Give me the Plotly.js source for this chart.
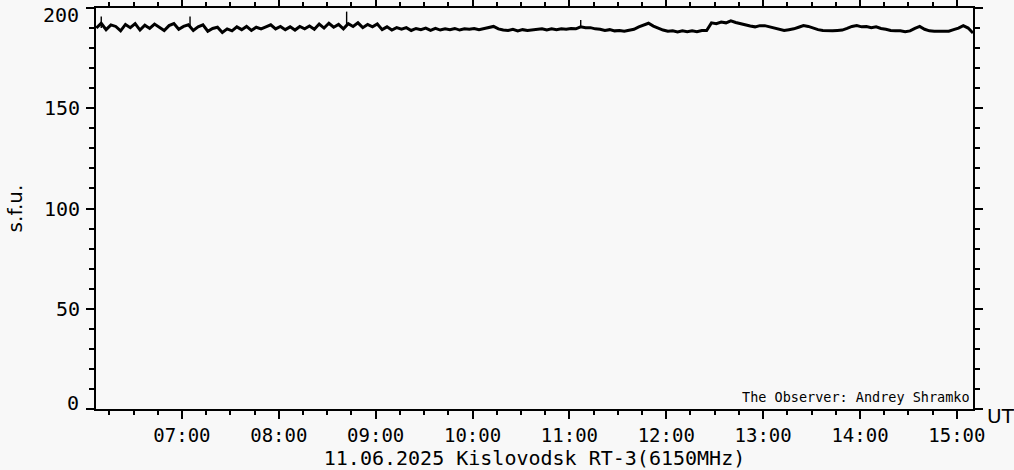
<!DOCTYPE html>
<html>
<head>
<meta charset="utf-8">
<script src="https://cdn.plot.ly/plotly-3.0.1.min.js"></script>
<style>
  html, body { margin: 0; padding: 0; background: #f8f8f8; }
  #chart { width: 1014px; height: 470px; }
</style>
</head>
<body>
<div id="chart"></div>
<script>
// Sampling grid: 3-minute samples from 06:07 UT to 15:10 UT on 11.06.2025
const dateStr = '2025-06-11';
const startMinute = 367;   // 06:07
const stepMinutes = 3;

// Flux values (s.f.u.), one per sample
const fluxValues = [
  190.0, 192.4, 189.2, 191.6, 190.8, 188.6, 191.8, 190.2, 192.2, 189.0,
  191.4, 189.8, 192.0, 190.6, 188.8, 191.2, 192.2, 189.4, 190.8, 191.6,
  188.8, 190.6, 191.6, 188.4, 189.8, 190.4, 187.8, 189.6, 188.6, 190.6,
  189.2, 190.8, 188.8, 190.4, 189.6, 190.6, 191.6, 189.6, 190.8, 189.2,
  190.6, 189.0, 190.8, 189.6, 191.0, 189.4, 192.0, 190.0, 192.4, 190.4,
  191.8, 189.6, 192.2, 190.8, 192.6, 190.2, 191.8, 190.6, 192.0, 189.2,
  190.6, 189.0, 190.2, 189.4, 190.2, 188.8, 189.8, 189.2, 190.0, 188.8,
  189.8, 189.0, 189.6, 189.2, 189.8, 189.0, 189.6, 189.4, 189.8, 189.2,
  189.8, 190.2, 190.8, 189.6, 189.0, 188.8, 189.4, 188.6, 189.2, 188.8,
  189.0, 189.2, 189.6, 189.0, 189.6, 189.2, 189.6, 189.4, 189.8, 189.6,
  190.6, 190.2, 190.2, 189.6, 189.4, 188.8, 189.2, 188.6, 188.8, 188.4,
  189.0, 189.4, 190.6, 191.5, 192.4, 191.0, 189.8, 189.0, 188.4, 188.6,
  188.0, 188.6, 188.2, 188.6, 188.2, 188.8, 188.8, 192.6, 192.2, 193.0,
  192.6, 193.6, 192.8, 192.2, 191.4, 191.0, 190.6, 191.2, 191.2, 190.6,
  189.8, 189.2, 188.8, 189.2, 189.6, 190.4, 191.2, 190.8, 189.8, 189.2,
  188.8, 188.6, 188.6, 188.8, 189.0, 189.8, 190.8, 191.2, 190.6, 190.8,
  190.2, 190.6, 189.8, 189.4, 188.8, 188.6, 188.6, 188.2, 188.6, 189.8,
  190.8, 189.4, 188.6, 188.4, 188.4, 188.2, 188.4, 189.2, 190.0, 191.2,
  190.0, 187.5
];

// Short spikes seen in the record
const spikeTimes  = ['06:10', '07:05', '08:42', '11:07'];
const spikeBase   = [190.0, 190.0, 191.0, 190.0];
const spikePeaks  = [195.7, 195.7, 198.2, 194.0];

// Y tick values and labels (end labels are drawn inside the range, as in the reference)
const yTickVals = [0, 50, 100, 150, 200];
const yTickText = ['', '50', '100', '150', ''];
const yEndLabels = [{ v: 0, text: '0', shift: 6 }, { v: 200, text: '200', shift: -7 }];

// Axis labels / texts
const yTitle = 's.f.u.';
const xTitle = '11.06.2025 Kislovodsk RT-3(6150MHz)';
const unitLabel = 'UT';
const observerText = 'The Observer: Andrey Shramko';

function pad(n) { return (n < 10 ? '0' : '') + n; }
function minuteToStamp(m) {
  return dateStr + ' ' + pad(Math.floor(m / 60)) + ':' + pad(m % 60) + ':00';
}
const times = fluxValues.map((_, i) => minuteToStamp(startMinute + i * stepMinutes));

const sx = [], sy = [];
spikeTimes.forEach((t, i) => {
  const ts = dateStr + ' ' + t + ':00';
  sx.push(ts, ts, null);
  sy.push(spikeBase[i], spikePeaks[i], null);
});

const monoFont = { family: 'DejaVu Sans Mono, monospace', size: 20, color: '#000' };
const tickFontX = { family: 'DejaVu Sans Mono, monospace', size: 19, color: '#000' };
const sansFont = { family: 'DejaVu Sans, sans-serif', size: 20, color: '#000' };

const traces = [
  { x: times, y: fluxValues, type: 'scatter', mode: 'lines',
    line: { color: '#000', width: 3 }, hoverinfo: 'x+y', showlegend: false },
  { x: sx, y: sy, type: 'scatter', mode: 'lines',
    line: { color: '#000', width: 1.4 }, hoverinfo: 'skip', showlegend: false }
];

const annotations = [
  { text: unitLabel, xref: 'paper', yref: 'paper', x: 1, y: 0,
    xanchor: 'left', yanchor: 'middle', xshift: 12, yshift: -7,
    showarrow: false, font: sansFont },
  { text: observerText, xref: 'paper', yref: 'paper', x: 1, y: 0,
    xanchor: 'right', yanchor: 'bottom', xshift: -1, yshift: 2,
    showarrow: false, font: { family: 'DejaVu Sans Mono, monospace', size: 13.5, color: '#000' } }
];
yEndLabels.forEach(l => {
  annotations.push({ text: l.text, xref: 'paper', yref: 'y', x: 0, y: l.v,
    xanchor: 'right', yanchor: 'middle', xshift: -15, yshift: l.shift,
    showarrow: false, font: monoFont });
});

const layout = {
  width: 1014, height: 470,
  margin: { l: 96, r: 41, t: 8, b: 61 },
  paper_bgcolor: '#f8f8f8',
  plot_bgcolor: '#f8f8f8',
  font: monoFont,
  showlegend: false,
  xaxis: {
    type: 'date',
    range: [dateStr + ' 06:06:45', dateStr + ' 15:10:00'],
    tickformat: '%H:%M',
    dtick: 3600000,
    tick0: dateStr + ' 00:00:00',
    ticks: 'outside', ticklen: 8, tickwidth: 2, tickcolor: '#000',
    minor: { dtick: 900000, ticks: 'outside', ticklen: 4, tickwidth: 2, tickcolor: '#000' },
    showline: true, linecolor: '#000', linewidth: 2, mirror: 'allticks',
    showgrid: false, zeroline: false,
    ticklabelstandoff: 0,
    tickfont: tickFontX,
    title: { text: xTitle, font: monoFont, standoff: 7 },
    automargin: false
  },
  yaxis: {
    range: [0, 200],
    tickmode: 'array', tickvals: yTickVals, ticktext: yTickText,
    ticks: 'outside', ticklen: 8, tickwidth: 2, tickcolor: '#000',
    minor: { dtick: 10, tick0: 0, ticks: 'outside', ticklen: 5, tickwidth: 2, tickcolor: '#000' },
    showline: true, linecolor: '#000', linewidth: 2, mirror: 'allticks',
    showgrid: false, zeroline: false,
    ticklabelstandoff: 2,
    tickfont: monoFont,
    title: { text: yTitle, font: sansFont, standoff: 16 },
    automargin: false
  },
  annotations: annotations
};

Plotly.newPlot('chart', traces, layout, { displayModeBar: false, staticPlot: true });
</script>
</body>
</html>
